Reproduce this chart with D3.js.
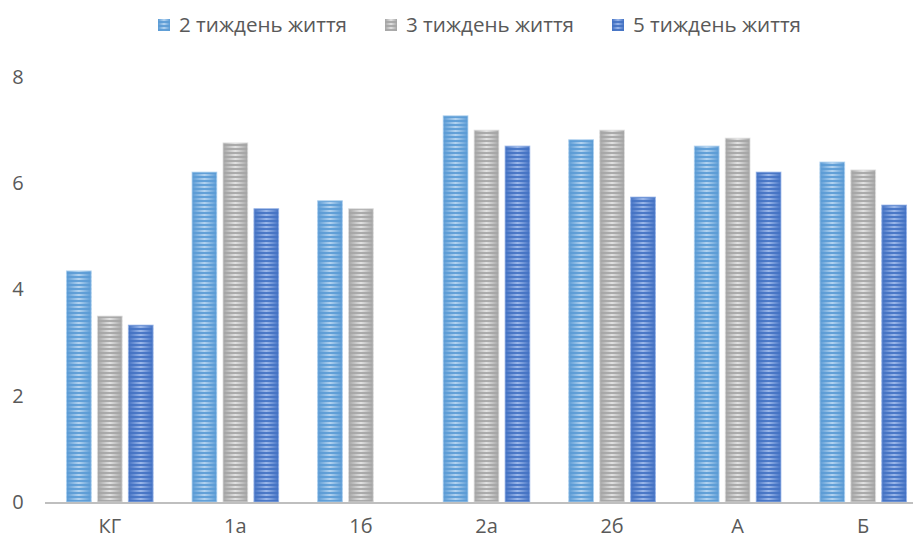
<!DOCTYPE html>
<html>
<head>
<meta charset="utf-8">
<script src="https://cdn.jsdelivr.net/npm/d3@7/dist/d3.min.js"></script>
<style>
  html, body { margin: 0; padding: 0; background: #fff; }
  svg text { font-family: "Open Sans", sans-serif; fill: #595959; }
</style>
</head>
<body>
<svg id="chart" width="913" height="540"></svg>
<script>
// Categories and series values
const categories = ["КГ", "1а", "1б", "2а", "2б", "А", "Б"];
const seriesNames = ["2 тиждень життя", "3 тиждень життя", "5 тиждень життя"];
const week2 = [4.35, 6.21, 5.67, 7.27, 6.82, 6.70, 6.40];
const week3 = [3.50, 6.76, 5.52, 7.00, 7.00, 6.85, 6.25];
const week5 = [3.33, 5.52, null, 6.70, 5.74, 6.21, 5.59];
const yTicks = [0, 2, 4, 6, 8];

const seriesValues = [week2, week3, week5];
const baseColors = ["#5b9bd5", "#a5a5a5", "#4472c4"];
const lightColors = ["#b3d3f0", "#e2e2e2", "#9cb8ea"];

const svg = d3.select("#chart");
const defs = svg.append("defs");

// Horizontal gradient per series (lighter in the middle of each bar)
seriesNames.forEach((s, i) => {
  const g = defs.append("linearGradient")
    .attr("id", "grad" + i)
    .attr("x1", "0%").attr("x2", "100%").attr("y1", "0%").attr("y2", "0%");
  g.append("stop").attr("offset", "0%").attr("stop-color", baseColors[i]);
  g.append("stop").attr("offset", "50%").attr("stop-color", lightColors[i]);
  g.append("stop").attr("offset", "100%").attr("stop-color", baseColors[i]);

  // Narrow horizontal stripe pattern
  const p = defs.append("pattern")
    .attr("id", "stripe" + i)
    .attr("patternUnits", "userSpaceOnUse")
    .attr("width", 8).attr("height", 4);
  p.append("rect").attr("width", 8).attr("height", 2)
    .attr("fill", baseColors[i]).attr("opacity", 0.9);
});

const margin = { left: 47, right: -13, top: 77, bottom: 38 };
const width = 913, height = 540;
const fontSize = "20px";

const x0 = d3.scaleBand()
  .domain(categories)
  .range([margin.left, width - margin.right])
  .paddingInner(0.31)
  .paddingOuter(0.155);

const x1 = d3.scaleBand()
  .domain(d3.range(seriesNames.length))
  .range([0, x0.bandwidth()])
  .paddingInner(0.2);

const y = d3.scaleLinear()
  .domain([0, 8])
  .range([height - margin.bottom, margin.top]);

// Y axis labels (no line, no gridlines)
const yAxis = d3.axisLeft(y).tickValues(yTicks).tickSize(0).tickPadding(0);
const gy = svg.append("g").attr("transform", "translate(24,0)").call(yAxis);
gy.select(".domain").remove();
gy.selectAll("text")
  .attr("text-anchor", "middle")
  .attr("x", -6)
  .style("font-size", fontSize);

// Bars
const groups = svg.append("g").selectAll("g")
  .data(categories)
  .join("g")
  .attr("transform", d => `translate(${x0(d)},0)`);

const barData = ci => seriesValues.map((vals, si) => ({ si, v: vals[ci] }))
  .filter(d => d.v !== null);

groups.each(function(cat, ci) {
  const g = d3.select(this);
  const data = barData(ci);
  g.selectAll("rect.base")
    .data(data)
    .join("rect")
    .attr("class", "base")
    .attr("x", d => x1(d.si))
    .attr("width", x1.bandwidth())
    .attr("y", d => y(d.v))
    .attr("height", d => y(0) - y(d.v))
    .attr("fill", d => `url(#grad${d.si})`);
  g.selectAll("rect.stripe")
    .data(data)
    .join("rect")
    .attr("class", "stripe")
    .attr("x", d => x1(d.si))
    .attr("width", x1.bandwidth())
    .attr("y", d => y(d.v))
    .attr("height", d => y(0) - y(d.v))
    .attr("fill", d => `url(#stripe${d.si})`)
    .attr("stroke", d => lightColors[d.si])
    .attr("stroke-width", 1)
    .attr("stroke-opacity", 0.8);
});

// X axis
const xAxis = d3.axisBottom(x0).tickSize(0).tickPadding(17);
const gx = svg.append("g").attr("transform", `translate(0,${y(0)})`).call(xAxis);
gx.select(".domain").remove();
gx.append("line")
  .attr("x1", margin.left - 2).attr("x2", width)
  .attr("y1", 1).attr("y2", 1)
  .attr("stroke", "#bfbfbf").attr("stroke-width", 2);
gx.selectAll("text").style("font-size", fontSize);

// Legend
const legendX = [158, 385, 612];
const legend = svg.append("g").selectAll("g")
  .data(seriesNames)
  .join("g")
  .attr("transform", (d, i) => `translate(${legendX[i]},25)`);
legend.append("rect")
  .attr("x", 0).attr("y", -6).attr("width", 12).attr("height", 12)
  .attr("fill", (d, i) => `url(#grad${i})`);
legend.append("rect")
  .attr("x", 0).attr("y", -6).attr("width", 12).attr("height", 12)
  .attr("fill", (d, i) => `url(#stripe${i})`);
legend.append("text")
  .attr("x", 21).attr("y", 0)
  .attr("dy", "0.35em")
  .attr("textLength", 168)
  .attr("lengthAdjust", "spacingAndGlyphs")
  .style("font-size", fontSize)
  .text(d => d);
</script>
</body>
</html>
